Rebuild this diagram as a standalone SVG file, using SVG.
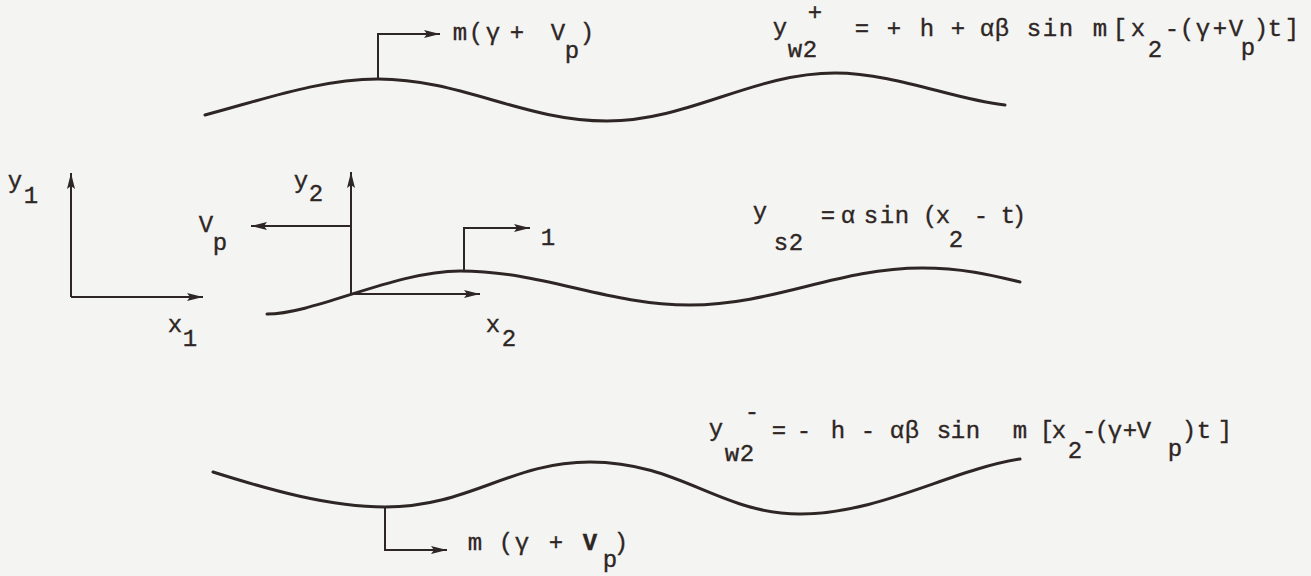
<svg xmlns="http://www.w3.org/2000/svg" width="1311" height="576" viewBox="0 0 1311 576">
<style>
.t{font-family:"Liberation Mono","DejaVu Sans Mono",monospace;font-size:24px;fill:#2e2624;stroke:#2e2624;stroke-width:0.35;text-anchor:middle}
.b{font-weight:bold}
.wave{fill:none;stroke:#2e2624;stroke-width:3;stroke-linecap:round;stroke-linejoin:round}
.ln{fill:none;stroke:#2e2624;stroke-width:2;stroke-linecap:butt}
.arr{marker-end:url(#ah)}
</style>
<defs>
<marker id="ah" markerUnits="userSpaceOnUse" markerWidth="18" markerHeight="10" refX="16" refY="4" orient="auto">
<path d="M0,0 L16,4 L0,8 L3,4 Z" fill="#2e2624"/>
</marker>
</defs>
<rect x="0" y="0" width="1311" height="576" fill="#f4f4f2"/>

<g id="waves">
<path id="upper-wall" class="wave" d="M205,115 C262,100 320,79 378,79 C461,79 524,121 607,121 C689,121 753,73 835,73 C895,73 955,100 1005,105"/>
<path id="sheet" class="wave" d="M267,314 C315,314 395,271 460,271 C543,271 607,305 690,305 C774,305 838,268 922,268 C965,268 995,276 1020,282"/>
<path id="lower-wall" class="wave" d="M213,472 C270,490 330,507 385,507 C470,507 510,462 590,462 C680,462 720,514 800,514 C880,514 950,470 1020,459"/>
</g>

<g id="connectors">
<path class="ln arr" d="M378,79 L378,34 L440,34"/>
<path class="ln arr" d="M71,297 L71,173"/>
<path class="ln arr" d="M71,297 L203,297"/>
<path class="ln arr" d="M351,295 L351,172"/>
<path class="ln arr" d="M351,226 L251,226"/>
<path class="ln arr" d="M351,294 L480,294"/>
<path class="ln arr" d="M464,271 L464,228 L530,228"/>
<path class="ln arr" d="M385,507 L385,550 L447,550"/>
</g>

<g id="labels">
<!-- top velocity label -->
<text class="t" x="460 476 493 517 558" y="40">m(γ+V</text>
<text class="t" x="572" y="58">p</text>
<text class="t" x="587" y="40">)</text>

<!-- upper wall equation -->
<text class="t" x="780" y="35">y</text>
<text class="t" x="815" y="20">+</text>
<text class="t" x="795 810" y="57">w2</text>
<text class="t" x="862 894 927 958 987 1002 1034 1050 1066 1100 1120 1138" y="36">=+h+αβsinm[x</text>
<text class="t" x="1155" y="57">2</text>
<text class="t" x="1172 1187 1203 1220 1236" y="36">-(γ+V</text>
<text class="t" x="1248" y="55">p</text>
<text class="t" x="1261 1275 1292" y="36">)t]</text>

<!-- axes labels -->
<text class="t" x="15" y="188">y</text>
<text class="t" x="31" y="203">1</text>
<text class="t" x="175" y="332">x</text>
<text class="t" x="190" y="346">1</text>
<text class="t" x="301" y="188">y</text>
<text class="t" x="316" y="201">2</text>
<text class="t" x="206" y="232">V</text>
<text class="t" x="220" y="250">p</text>
<text class="t" x="548" y="245">1</text>
<text class="t" x="493" y="332">x</text>
<text class="t" x="509" y="346">2</text>

<!-- sheet equation -->
<text class="t" x="760" y="219">y</text>
<text class="t" x="781 796" y="250">s2</text>
<text class="t" x="828 848 871 887 902 930 943" y="223">=αsin(x</text>
<text class="t" x="956" y="247">2</text>
<text class="t" x="981 1008 1019" y="223">-t)</text>

<!-- lower wall equation -->
<text class="t" x="716" y="436">y</text>
<text class="t" x="752" y="419">-</text>
<text class="t" x="732 747" y="461">w2</text>
<text class="t" x="779 804 838 868 897 912 944 958 973 1020 1047 1059" y="438">=-h-αβsinm[x</text>
<text class="t" x="1075" y="458">2</text>
<text class="t" x="1089 1102 1115 1130 1144" y="438">-(γ+V</text>
<text class="t" x="1175" y="456">p</text>
<text class="t" x="1189 1204 1225" y="438">)t]</text>

<!-- lower velocity label -->
<text class="t" x="475 506 522 556" y="550">m(γ+</text>
<text class="t b" x="590" y="550">V</text>
<text class="t" x="610" y="567">p</text>
<text class="t" x="621" y="550">)</text>
</g>
</svg>
